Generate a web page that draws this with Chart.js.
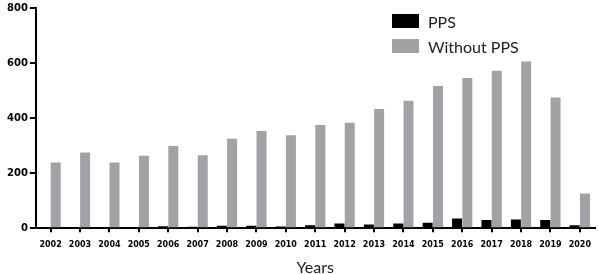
<!DOCTYPE html>
<html>
<head>
<meta charset="utf-8">
<script src="https://cdn.jsdelivr.net/npm/chart.js@4.4.1/dist/chart.umd.min.js"></script>
<style>
  body { margin: 0; background: #fff; }
  #wrap { position: relative; width: 599px; height: 274px; }
  #legend { position: absolute; left: 392px; top: 14px; font-family: Lato, sans-serif; font-size: 16px; color: #222; }
  #legend .row { display: flex; align-items: center; height: 14px; margin-bottom: 11px; }
  #legend .box { width: 27px; height: 14px; margin-right: 9px; }
</style>
</head>
<body>
<div id="wrap">
  <canvas id="ppsChart"></canvas>
  <div id="legend"></div>
</div>
<script>
document.addEventListener("DOMContentLoaded", function () {

  // ===== Data =====
  const years = ['2002', '2003', '2004', '2005', '2006', '2007', '2008', '2009', '2010', '2011',
                 '2012', '2013', '2014', '2015', '2016', '2017', '2018', '2019', '2020'];
  const ppsData = [4, 1, 3, 1, 7, 5, 9, 9, 6, 11, 17, 13, 17, 20, 35, 30, 32, 30, 11];
  const withoutPpsData = [239, 275, 239, 263, 299, 265, 325, 353, 338, 375,
                          383, 433, 463, 517, 546, 572, 606, 475, 126];
  const yTicks = [0, 200, 400, 600, 800];

  const ctx = document.getElementById('ppsChart').getContext('2d');
  const chart = new Chart(ctx, {
    type: 'bar',
    data: {
      labels: years,
      datasets: [
        {
          label: 'PPS',
          data: ppsData,
          backgroundColor: '#000000',
          categoryPercentage: 0.7,
          barPercentage: 0.97
        },
        {
          label: 'Without PPS',
          data: withoutPpsData,
          backgroundColor: '#a2a2a6',
          categoryPercentage: 0.7,
          barPercentage: 0.97
        }
      ]
    },
    options: {
      responsive: true,
      maintainAspectRatio: false,
      animation: false,
      layout: { padding: { top: 0, right: 2, left: 5, bottom: 0 } },
      plugins: {
        legend: { display: false },
        tooltip: { enabled: false }
      },
      scales: {
        x: {
          grid: {
            offset: false,
            drawOnChartArea: false,
            color: '#000',
            lineWidth: 2,
            tickLength: 4
          },
          border: { color: '#000', width: 2 },
          ticks: {
            color: '#000',
            padding: 8,
            maxRotation: 0,
            autoSkip: false,
            font: { family: "'DejaVu Sans', sans-serif", size: 8, weight: 'bold' }
          },
          title: {
            display: true,
            text: 'Years',
            color: '#222',
            padding: { top: 0, bottom: -3 },
            font: { family: 'Lato, sans-serif', size: 16 }
          }
        },
        y: {
          min: 0,
          max: yTicks[yTicks.length - 1],
          afterBuildTicks: axis => { axis.ticks = yTicks.map(v => ({ value: v })); },
          grid: {
            drawOnChartArea: false,
            color: '#000',
            lineWidth: 2,
            tickLength: 6
          },
          border: { color: '#000', width: 2 },
          ticks: {
            color: '#000',
            padding: 2,
            font: { family: "'DejaVu Sans', sans-serif", size: 10, weight: 'bold' }
          }
        }
      }
    }
  });

  // ===== HTML legend =====
  const legend = document.getElementById('legend');
  chart.data.datasets.forEach(ds => {
    const row = document.createElement('div');
    row.className = 'row';
    const box = document.createElement('span');
    box.className = 'box';
    box.style.background = ds.backgroundColor;
    const label = document.createElement('span');
    label.textContent = ds.label;
    row.appendChild(box);
    row.appendChild(label);
    legend.appendChild(row);
  });

});
</script>
</body>
</html>
